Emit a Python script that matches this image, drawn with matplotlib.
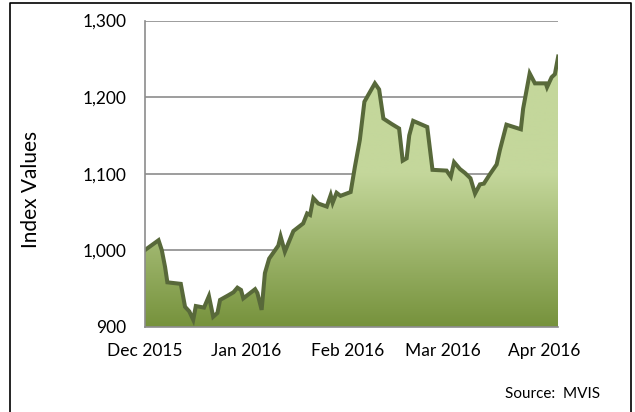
import numpy as np
import matplotlib
matplotlib.use("Agg")
import matplotlib.pyplot as plt
from matplotlib.colors import LinearSegmentedColormap
from matplotlib.lines import Line2D

# days after 2015-12-01 and index level
days = [0, 4.2, 5.2, 6.2, 6.9, 11.0, 12.3, 13.6, 14.8, 15.6, 18.1, 19.6, 20.9,
        22.2, 23.0, 25.5, 27.1, 28.3, 29.4, 30.1, 33.7, 34.4, 35.7, 36.7, 38.0,
        40.8, 41.5, 42.8, 45.4, 48.4, 49.6, 50.5, 51.5, 53.0, 55.6, 56.8, 57.4,
        58.6, 59.8, 62.9, 64.2, 65.7, 67.1, 70.3, 71.6, 72.9, 75.4, 77.7, 78.8,
        80.0, 80.8, 82.0, 86.3, 87.9, 92.2, 93.5, 94.5, 96.3, 97.8, 99.5, 100.9,
        102.4, 103.6, 105.4, 107.5, 108.5, 110.5, 114.9, 115.6, 117.6, 119.2,
        122.5, 122.9, 124.3, 125.3, 126.3]
values = [1000, 1013, 1000, 978, 958, 956, 926, 920, 909, 927, 925, 940, 913,
          918, 935, 941, 945, 951, 948, 937, 949, 944, 922, 970, 989,
          1006, 1018, 998, 1025, 1035, 1048, 1046, 1068, 1061, 1057, 1072, 1062,
          1075, 1071, 1076, 1109, 1144, 1194, 1218, 1210, 1172, 1165, 1159, 1117,
          1120, 1150, 1169, 1161, 1105, 1104, 1096, 1115, 1106, 1101, 1094, 1074,
          1086, 1087, 1099, 1112, 1131, 1164, 1158, 1185, 1231, 1218,
          1218, 1213, 1226, 1230, 1253]

month_days = [0, 31, 62, 91, 122]
month_labels = ["Dec 2015", "Jan 2016", "Feb 2016", "Mar 2016", "Apr 2016"]
yticks = [900, 1000, 1100, 1200, 1300]

plt.rcParams["font.family"] = ["Lato", "DejaVu Sans"]

fig = plt.figure(figsize=(6.35, 4.12), dpi=100)
ax = fig.add_axes([0.228, 0.207, 0.651, 0.743])

ymin, ymax = 900, 1300
x = np.array(days)
y = np.array(values)

# gradient fill clipped to area under line
poly = ax.fill_between(x, ymin, y, color="none", lw=0)
cmap = LinearSegmentedColormap.from_list(
    "g", [(0, "#76923c"), (0.5, "#c4d79b"), (1, "#c4d79b")])
grad = np.linspace(0, 1, 256).reshape(-1, 1)
im = ax.imshow(grad, cmap=cmap, aspect="auto", origin="lower",
               extent=[x[0], x[-1], ymin, ymax], zorder=2)
clip = poly.get_paths()[0]
im.set_clip_path(clip, transform=ax.transData)

ax.plot(x, y, color="#58693a", lw=2.9, zorder=3, solid_joinstyle="miter")

ax.set_xlim(x[0], x[-1])
ax.set_ylim(ymin, ymax)
ax.set_yticks(yticks)
ax.set_yticklabels(["{:,}".format(v) for v in yticks])
ax.set_xticks(month_days)
ax.set_xticklabels(month_labels)
ax.tick_params(length=0, labelsize=12.5, colors="black")
ax.tick_params(axis="y", pad=13)
ax.tick_params(axis="x", pad=12)
ax.grid(axis="y", color="#8c8c8c", lw=1.2, zorder=1)
ax.set_axisbelow(True)
for s in ["top", "right"]:
    ax.spines[s].set_visible(False)
for s in ["left", "bottom"]:
    ax.spines[s].set_color("#8c8c8c")
    ax.spines[s].set_linewidth(1.2)
    ax.spines[s].set_zorder(4)

ax.set_ylabel("Index Values", fontsize=15)
ax.yaxis.set_label_coords(-0.25, 0.447)

fig.text(0.945, 0.043, "Source:  MVIS", fontsize=11, ha="right", va="center")

# outer frame (open at bottom)
fx0, fx1, fy = 10 / 635, 631 / 635, 1 - 3 / 412
fig.add_artist(Line2D([fx0, fx0, fx1, fx1], [0, fy, fy, 0],
                      color="black", lw=1.2, transform=fig.transFigure))

fig.savefig("out.png", dpi=100)
